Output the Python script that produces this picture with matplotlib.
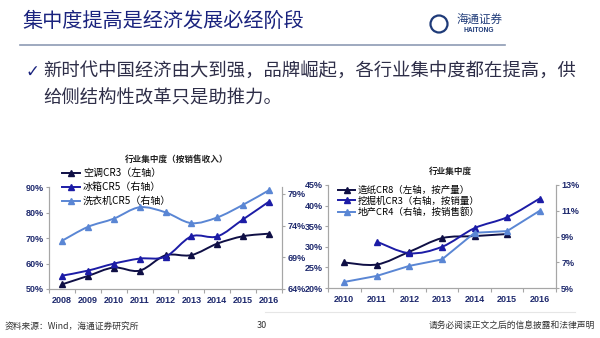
import matplotlib
matplotlib.use("Agg")
import matplotlib.pyplot as plt
from matplotlib.path import Path
from matplotlib.patches import PathPatch, Circle
from matplotlib.lines import Line2D
from matplotlib.ticker import FuncFormatter, FixedLocator
from matplotlib.font_manager import FontProperties

plt.rcParams['font.family'] = ['Noto Sans CJK SC', 'DejaVu Sans']

# left chart: appliance concentration (by sales revenue)
years_a = ['2008', '2009', '2010', '2011', '2012', '2013', '2014', '2015', '2016']
ac_cr3 = [51.8, 55.1, 58.4, 57.2, 63.2, 63.3, 67.8, 70.7, 71.7]        # left axis
fridge_cr5 = [66.1, 66.9, 68.0, 68.8, 69.1, 72.3, 72.3, 75.0, 77.8]    # right axis
washer_cr5 = [71.6, 73.8, 75.1, 76.9, 76.1, 74.4, 75.3, 77.3, 79.6]    # right axis

# right chart: other industries
years_b = ['2010', '2011', '2012', '2013', '2014', '2015', '2016']
paper_cr8 = [26.2, 25.7, 28.8, 32.1, 32.6, 33.1]          # left axis, 2010-2015
digger_cr3 = [8.6, 7.7, 8.2, 9.65, 10.5, 11.95]           # right axis, 2011-2016
estate_cr4 = [5.47, 5.94, 6.72, 7.22, 9.29, 9.42, 11.0]   # right axis, 2010-2016

c_black = '#0f0f45'
c_blue = '#1c1ca6'
c_light = '#5a86d4'
c_tick = '#1f2a6e'
c_spine = '#a6a6a6'


def smooth(ax, xs, ys, color, smooth_it=True):
    pts = list(zip(xs, ys))
    verts = [pts[0]]
    codes = [Path.MOVETO]
    for i in range(len(pts) - 1):
        p0 = pts[i - 1] if i > 0 else pts[i]
        p1 = pts[i]
        p2 = pts[i + 1]
        p3 = pts[i + 2] if i + 2 < len(pts) else pts[i + 1]
        if smooth_it:
            c1 = (p1[0] + (p2[0] - p0[0]) / 6, p1[1] + (p2[1] - p0[1]) / 6)
            c2 = (p2[0] - (p3[0] - p1[0]) / 6, p2[1] - (p3[1] - p1[1]) / 6)
        else:
            c1, c2 = p1, p2
        verts += [c1, c2, p2]
        codes += [Path.CURVE4] * 3
    ax.add_patch(PathPatch(Path(verts, codes), fill=False, edgecolor=color, lw=1.4))
    ax.plot(xs, ys, ls='none', marker='^', ms=3.8, color=color)


def style(ax, ax2, n):
    for a in (ax, ax2):
        a.spines['top'].set_visible(False)
        for s in ('left', 'right', 'bottom'):
            a.spines[s].set_color(c_spine)
            a.spines[s].set_linewidth(0.8)
        a.tick_params(axis='y', length=2.5, width=0.8, color=c_spine, pad=1.2)
        a.set_facecolor('none')
    ax.set_xlim(-0.5, n - 0.5)
    ax.xaxis.set_major_locator(FixedLocator(range(n)))
    ax.xaxis.set_minor_locator(FixedLocator([i - 0.5 for i in range(n + 1)]))
    ax.tick_params(axis='x', which='major', length=0, pad=5)
    ax.tick_params(axis='x', which='minor', length=3, width=0.8, color=c_spine)
    fp = FontProperties(family='Liberation Sans', weight='bold', size=6.5)
    for lab in ax.get_xticklabels() + ax.get_yticklabels() + ax2.get_yticklabels():
        lab.set_fontproperties(fp)
        lab.set_color(c_tick)


fig = plt.figure(figsize=(6, 3.38), dpi=100)
fig.patch.set_facecolor('white')

# header
fig.text(22 / 600, 1 - 21 / 338, '集中度提高是经济发展必经阶段', fontsize=14.5, color='#1a237e', va='center')
fig.add_artist(Line2D([20 / 600, 505 / 600], [1 - 45 / 338, 1 - 45 / 338], color='#8e9bb4', lw=1.2))
fig.add_artist(Circle((4.39, 3.38 - 0.24), 0.085, transform=fig.dpi_scale_trans, fill=False,
                      edgecolor='#1e3a78', lw=1.6))
fig.text(479 / 600, 1 - 19 / 338, '海通证券', fontsize=8.3, color='#1e3a78', ha='center', va='center')
fig.text(479 / 600, 1 - 31 / 338, 'HAITONG', fontsize=4.8, color='#1e3a78', ha='center', va='center',
         family='Liberation Sans', weight='bold')

# bullet text
fig.text(26 / 600, 1 - 72 / 338, '✓', fontsize=12, color='#1a237e', va='center', family=['DejaVu Sans'])
fig.text(43 / 600, 1 - 72 / 338, '新时代中国经济由大到强，品牌崛起，各行业集中度都在提高，供',
         fontsize=13.2, color='#2e2e48', va='center')
fig.text(43 / 600, 1 - 99 / 338, '给侧结构性改革只是助推力。', fontsize=13.2, color='#2e2e48', va='center')

# left chart
ax1 = fig.add_axes([49 / 600, (338 - 289) / 338, 233 / 600, 102 / 338])
ax1b = ax1.twinx()
xa = list(range(len(years_a)))
smooth(ax1, xa, ac_cr3, c_black)
smooth(ax1b, xa, fridge_cr5, c_blue)
smooth(ax1b, xa, washer_cr5, c_light)
ax1.set_ylim(50, 90)
ax1.set_yticks([50, 60, 70, 80, 90])
ax1.yaxis.set_major_formatter(FuncFormatter(lambda v, p: f'{v:.0f}%'))
ax1b.set_ylim(64, 80.1)
ax1b.set_yticks([64, 69, 74, 79])
ax1b.yaxis.set_major_formatter(FuncFormatter(lambda v, p: f'{v:.0f}%'))
ax1.set_xticks(xa)
ax1.set_xticklabels(years_a)
style(ax1, ax1b, len(years_a))
fig.text(177 / 600, 1 - 159 / 338, '行业集中度（按销售收入）', fontsize=6.2, weight='bold', color='#222222',
         ha='center', va='center')
h1 = [Line2D([], [], color=c, marker='^', ms=3.8, lw=1.4) for c in (c_black, c_blue, c_light)]
fig.legend(h1, ['空调CR3（左轴）', '冰箱CR5（右轴）', '洗衣机CR5（右轴）'], loc='upper left',
           bbox_to_anchor=(62 / 600, 1 - 168 / 338), frameon=False, fontsize=7.2, borderpad=0,
           handlelength=1.8, handletextpad=0.3, labelspacing=0.4, borderaxespad=0)

# right chart
ax2 = fig.add_axes([328 / 600, (338 - 288) / 338, 228 / 600, 103 / 338])
ax2b = ax2.twinx()
xb = list(range(len(years_b)))
smooth(ax2, xb[:6], paper_cr8, c_black)
smooth(ax2b, xb[1:], digger_cr3, c_blue)
smooth(ax2b, xb, estate_cr4, c_light, smooth_it=False)
ax2.set_ylim(20, 45)
ax2.set_yticks([20, 25, 30, 35, 40, 45])
ax2.yaxis.set_major_formatter(FuncFormatter(lambda v, p: f'{v:.0f}%'))
ax2b.set_ylim(5, 13)
ax2b.set_yticks([5, 7, 9, 11, 13])
ax2b.yaxis.set_major_formatter(FuncFormatter(lambda v, p: f'{v:.0f}%'))
ax2.set_xticks(xb)
ax2.set_xticklabels(years_b)
style(ax2, ax2b, len(years_b))
fig.text(450 / 600, 1 - 171 / 338, '行业集中度', fontsize=6.2, weight='bold', color='#222222',
         ha='center', va='center')
h2 = [Line2D([], [], color=c, marker='^', ms=3.8, lw=1.4) for c in (c_black, c_blue, c_light)]
fig.legend(h2, ['造纸CR8（左轴，按产量）', '挖掘机CR3（右轴，按销量）', '地产CR4（右轴，按销售额）'],
           loc='upper left', bbox_to_anchor=(338 / 600, 1 - 186 / 338), frameon=False, fontsize=6.8,
           borderpad=0, handlelength=1.8, handletextpad=0.3, labelspacing=0.15, borderaxespad=0)

# footer
fig.add_artist(Line2D([265 / 600, 575 / 600], [1 - 312 / 338, 1 - 312 / 338], color='#e6e6e6', lw=0.8))
fig.text(5 / 600, 1 - 326 / 338, '资料来源：Wind，海通证券研究所', fontsize=6.3, color='#333333', va='center')
fig.text(262 / 600, 1 - 326 / 338, '30', fontsize=6.5, color='#333333', va='center', ha='center')
fig.text(595 / 600, 1 - 326 / 338, '请务必阅读正文之后的信息披露和法律声明', fontsize=6.3, color='#333333',
         va='center', ha='right')

fig.savefig('out.png', dpi=100)
